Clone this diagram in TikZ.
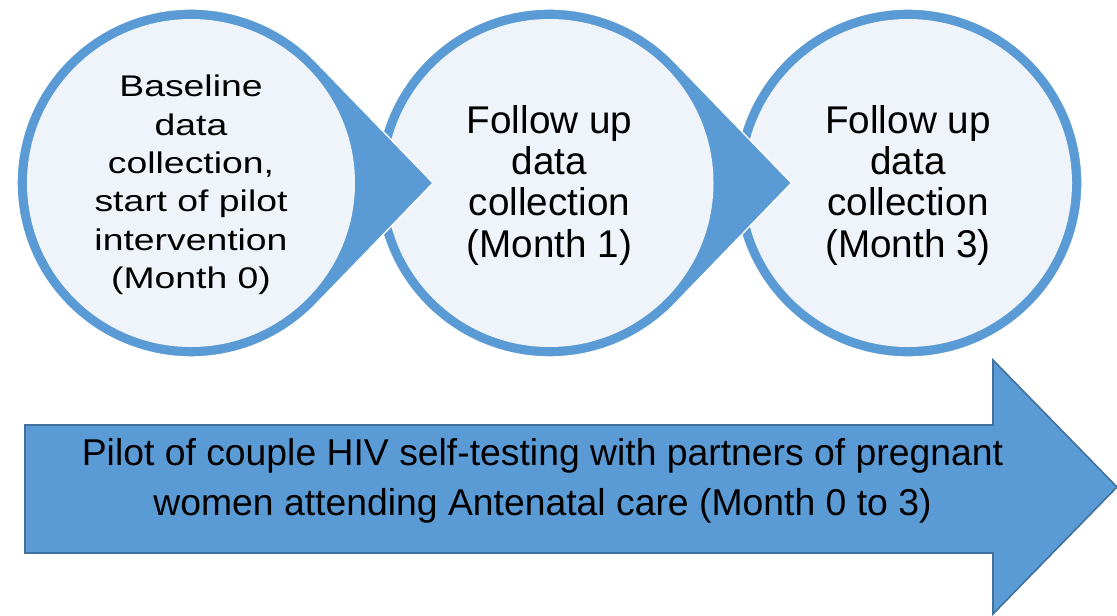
\documentclass[tikz,border=0pt]{standalone}
\usepackage{fontspec}
\setmainfont{Liberation Sans}
\definecolor{accent}{HTML}{5B9BD5}
\definecolor{lightfill}{HTML}{EFF3FA}
\definecolor{arrowedge}{HTML}{41719C}
\begin{document}
\begin{tikzpicture}[x=0.75pt,y=-0.75pt,
  teardrop/.style={fill=accent, draw=white, line width=1pt},
  innercirc/.style={circle, fill=lightfill, minimum size=246pt, inner sep=0pt},
  steptext/.style={align=center, font=\fontsize{29}{31}\selectfont, text=black, inner sep=0pt},
  bigarrow/.style={fill=accent, draw=arrowedge, line width=1.2pt, line join=miter},
  arrowtext/.style={align=center, font=\fontsize{28}{37.5}\selectfont, text=black, inner sep=0pt}
]
\useasboundingbox (0,0) rectangle (1117,615);
% circle 3 (plain)
\fill[teardrop] (908,183) circle[radius=130.5pt];
\node[innercirc] (c3) at (908,183) {};
% circle 2
\fill[teardrop] (791.5,183) -- (674.7,62.1) arc[start angle=44, end angle=316, radius=130.5pt] -- cycle;
\node[innercirc] (c2) at (549.5,183) {};
% circle 1
\fill[teardrop] (433,183) -- (316.2,62.1) arc[start angle=44, end angle=316, radius=130.5pt] -- cycle;
\node[innercirc] (c1) at (191,183) {};
% texts
\node[inner sep=0pt, text=black] (t1) at (191,185) {\scalebox{1}[0.8]{\fontsize{28}{36}\selectfont\begin{tabular}{@{}c@{}}Baseline\\data\\collection,\\start of pilot\\intervention\\(Month 0)\end{tabular}}};
\node[steptext] (t2) at (549.5,185) {Follow up\\data\\collection\\(Month 1)};
\node[steptext] (t3) at (908,185) {Follow up\\data\\collection\\(Month 3)};
% big arrow
\draw[bigarrow] (25,425) -- (993,425) -- (993,360) -- (1117,487) -- (993,614) -- (993,553) -- (25,553) -- cycle;
\node[arrowtext] (at) at (542.5,481) {Pilot of couple HIV self-testing with partners of pregnant\\women attending Antenatal care (Month 0 to 3)};
\end{tikzpicture}
\end{document}
